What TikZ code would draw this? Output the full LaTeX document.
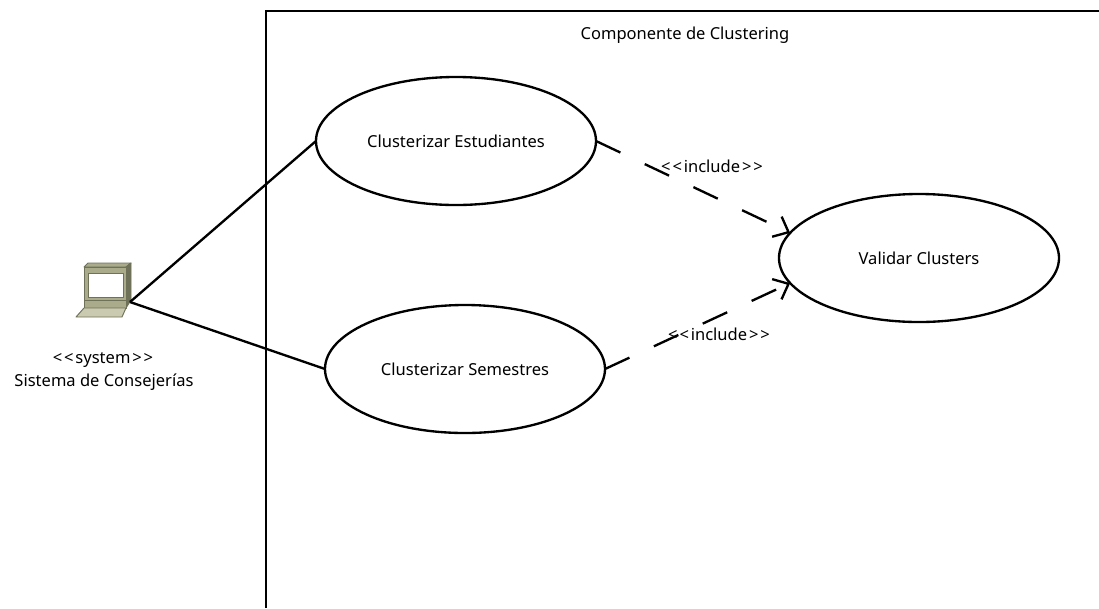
\documentclass[tikz,border=0pt]{standalone}
\usepackage{fontspec}
\setmainfont{Noto Sans}
\usetikzlibrary{arrows.meta, shapes.geometric}
\definecolor{caseBody}{HTML}{A9AB8B}
\definecolor{caseDark}{HTML}{6F7158}
\definecolor{caseLight}{HTML}{C9CAB0}
\newcommand{\stereotype}[1]{\textless\kern1.6pt\textless\kern1.6pt#1\kern1.6pt\textgreater\kern1.6pt\textgreater}
\tikzset{
	usecase/.style={ellipse, draw=black, line width=2pt, fill=white, minimum width=8.4cm, minimum height=3.84cm, inner sep=0pt, outer sep=0pt, font=\fontsize{14.1}{16}\selectfont},
	label/.style={inner sep=0pt, font=\fontsize{14.1}{16}\selectfont},
	assoc/.style={line width=2pt},
	incl/.style={line width=2pt, dash pattern=on 23pt off 23pt, -{Straight Barb[length=11pt, width=19pt, line width=2pt]}},
	laptop/.style={draw=caseDark, line width=0.8pt, line join=round}
}
\begin{document}
\begin{tikzpicture}[x=0.03cm, y=-0.03cm]
	\useasboundingbox (0,0) rectangle (1099,608);

	\draw[line width=2pt]	(266,608) -- (266,11) -- (1099,11);

	\coordinate (pc) at (130,302);
	\fill[caseBody, laptop]		(84,267) -- (88,263) -- (131,263) -- (126,267) -- cycle;
	\fill[caseDark, laptop]		(126,267) -- (131,263) -- (131,300) -- (126,308) -- cycle;
	\fill[caseBody, laptop]		(84,267) rectangle (126,300);
	\fill[white, laptop]		(88,273) rectangle (123,297);
	\fill[caseBody, laptop]		(84,300) rectangle (126,308);
	\fill[caseLight, laptop]	(84,308) -- (126,308) -- (122,317) -- (76,317) -- cycle;

	\node[label] (stereo) at (103,360) {\stereotype{system}};
	\node[label] (system) at (104,382) {Sistema de Consejerías};
	\node[label] (title) at (685,35) {Componente de Clustering};

	\node[usecase] (estud) at (456,141) {Clusterizar Estudiantes};
	\node[usecase] (semes) at (465,369) {Clusterizar Semestres};
	\node[usecase] (valid) at (919,258) {Validar Clusters};

	\draw[assoc]	(pc) -- (estud.west);
	\draw[assoc]	(pc) -- (semes.west);

	\draw[incl]	(estud.east) -- (valid.169);
	\draw[incl]	(semes.east) -- (valid.191);

	\node[label] (inclA) at (712,166) {\stereotype{include}};
	\node[label] (inclB) at (719,334) {\stereotype{include}};
\end{tikzpicture}
\end{document}
